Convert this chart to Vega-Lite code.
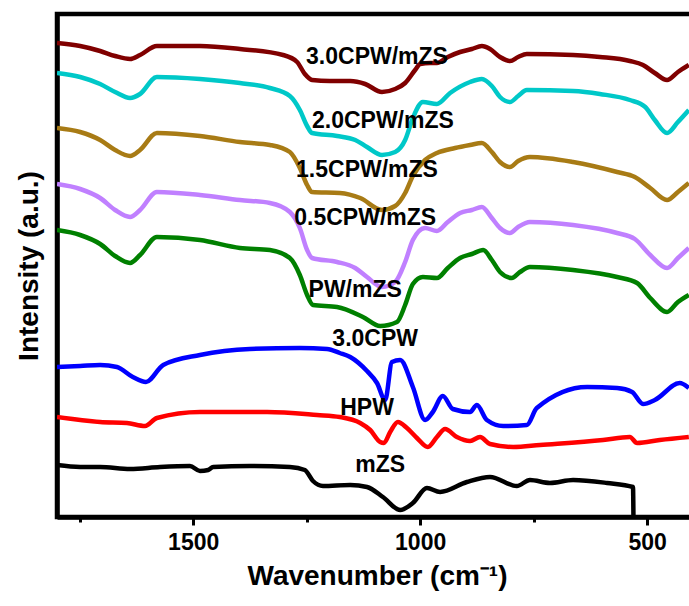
{
  "$schema": "https://vega.github.io/schema/vega-lite/v6.json",
  "width": 640,
  "height": 503,
  "autosize": {"type": "none"},
  "padding": {"left": 57, "top": 14, "right": 0, "bottom": 89},
  "background": "white",
  "config": {
    "font": "Liberation Sans",
    "view": {"stroke": "black", "strokeWidth": 4.5},
    "axis": {"grid": false, "domainColor": "black", "domainWidth": 4.5, "tickColor": "black", "tickWidth": 3, "labelFont": "Liberation Sans", "labelFontWeight": "bold", "labelFontSize": 23, "labelColor": "black", "titleFont": "Liberation Sans", "titleFontWeight": "bold", "titleFontSize": 28, "titleColor": "black"}
  },
  "datasets": {
    "spectra": [
      {"s": "3.0CPW/mZS", "wn": 1800, "v": 474}, {"s": "3.0CPW/mZS", "wn": 1749, "v": 471}, {"s": "3.0CPW/mZS", "wn": 1705, "v": 466}, {"s": "3.0CPW/mZS", "wn": 1672, "v": 461}, {"s": "3.0CPW/mZS", "wn": 1639, "v": 458}, {"s": "3.0CPW/mZS", "wn": 1617, "v": 462}, {"s": "3.0CPW/mZS", "wn": 1580, "v": 471}, {"s": "3.0CPW/mZS", "wn": 1485, "v": 471}, {"s": "3.0CPW/mZS", "wn": 1397, "v": 468}, {"s": "3.0CPW/mZS", "wn": 1302, "v": 462}, {"s": "3.0CPW/mZS", "wn": 1271, "v": 455}, {"s": "3.0CPW/mZS", "wn": 1254, "v": 443}, {"s": "3.0CPW/mZS", "wn": 1238, "v": 437}, {"s": "3.0CPW/mZS", "wn": 1199, "v": 436}, {"s": "3.0CPW/mZS", "wn": 1154, "v": 436}, {"s": "3.0CPW/mZS", "wn": 1121, "v": 433}, {"s": "3.0CPW/mZS", "wn": 1084, "v": 425}, {"s": "3.0CPW/mZS", "wn": 1055, "v": 428}, {"s": "3.0CPW/mZS", "wn": 1033, "v": 434}, {"s": "3.0CPW/mZS", "wn": 1011, "v": 447}, {"s": "3.0CPW/mZS", "wn": 1000, "v": 453}, {"s": "3.0CPW/mZS", "wn": 978, "v": 454}, {"s": "3.0CPW/mZS", "wn": 963, "v": 454}, {"s": "3.0CPW/mZS", "wn": 939, "v": 460}, {"s": "3.0CPW/mZS", "wn": 912, "v": 465}, {"s": "3.0CPW/mZS", "wn": 886, "v": 468}, {"s": "3.0CPW/mZS", "wn": 864, "v": 471}, {"s": "3.0CPW/mZS", "wn": 846, "v": 468}, {"s": "3.0CPW/mZS", "wn": 824, "v": 460}, {"s": "3.0CPW/mZS", "wn": 802, "v": 456}, {"s": "3.0CPW/mZS", "wn": 784, "v": 460}, {"s": "3.0CPW/mZS", "wn": 765, "v": 463}, {"s": "3.0CPW/mZS", "wn": 663, "v": 462}, {"s": "3.0CPW/mZS", "wn": 604, "v": 460}, {"s": "3.0CPW/mZS", "wn": 538, "v": 456}, {"s": "3.0CPW/mZS", "wn": 509, "v": 452}, {"s": "3.0CPW/mZS", "wn": 483, "v": 444}, {"s": "3.0CPW/mZS", "wn": 456, "v": 437}, {"s": "3.0CPW/mZS", "wn": 432, "v": 445}, {"s": "3.0CPW/mZS", "wn": 408, "v": 452},

      {"s": "2.0CPW/mZS", "wn": 1800, "v": 444}, {"s": "2.0CPW/mZS", "wn": 1749, "v": 440}, {"s": "2.0CPW/mZS", "wn": 1705, "v": 433}, {"s": "2.0CPW/mZS", "wn": 1672, "v": 425}, {"s": "2.0CPW/mZS", "wn": 1639, "v": 419}, {"s": "2.0CPW/mZS", "wn": 1617, "v": 423}, {"s": "2.0CPW/mZS", "wn": 1580, "v": 440}, {"s": "2.0CPW/mZS", "wn": 1485, "v": 438}, {"s": "2.0CPW/mZS", "wn": 1397, "v": 434}, {"s": "2.0CPW/mZS", "wn": 1331, "v": 429}, {"s": "2.0CPW/mZS", "wn": 1287, "v": 421}, {"s": "2.0CPW/mZS", "wn": 1265, "v": 407}, {"s": "2.0CPW/mZS", "wn": 1249, "v": 391}, {"s": "2.0CPW/mZS", "wn": 1238, "v": 384}, {"s": "2.0CPW/mZS", "wn": 1183, "v": 381}, {"s": "2.0CPW/mZS", "wn": 1143, "v": 377}, {"s": "2.0CPW/mZS", "wn": 1117, "v": 370}, {"s": "2.0CPW/mZS", "wn": 1084, "v": 362}, {"s": "2.0CPW/mZS", "wn": 1055, "v": 365}, {"s": "2.0CPW/mZS", "wn": 1033, "v": 377}, {"s": "2.0CPW/mZS", "wn": 1016, "v": 399}, {"s": "2.0CPW/mZS", "wn": 994, "v": 415}, {"s": "2.0CPW/mZS", "wn": 963, "v": 413}, {"s": "2.0CPW/mZS", "wn": 934, "v": 424}, {"s": "2.0CPW/mZS", "wn": 890, "v": 435}, {"s": "2.0CPW/mZS", "wn": 864, "v": 438}, {"s": "2.0CPW/mZS", "wn": 842, "v": 431}, {"s": "2.0CPW/mZS", "wn": 824, "v": 420}, {"s": "2.0CPW/mZS", "wn": 802, "v": 415}, {"s": "2.0CPW/mZS", "wn": 784, "v": 421}, {"s": "2.0CPW/mZS", "wn": 765, "v": 427}, {"s": "2.0CPW/mZS", "wn": 663, "v": 426}, {"s": "2.0CPW/mZS", "wn": 604, "v": 423}, {"s": "2.0CPW/mZS", "wn": 538, "v": 417}, {"s": "2.0CPW/mZS", "wn": 504, "v": 410}, {"s": "2.0CPW/mZS", "wn": 483, "v": 397}, {"s": "2.0CPW/mZS", "wn": 456, "v": 384}, {"s": "2.0CPW/mZS", "wn": 432, "v": 395}, {"s": "2.0CPW/mZS", "wn": 408, "v": 407},

      {"s": "1.5CPW/mZS", "wn": 1800, "v": 389}, {"s": "1.5CPW/mZS", "wn": 1749, "v": 385}, {"s": "1.5CPW/mZS", "wn": 1705, "v": 377}, {"s": "1.5CPW/mZS", "wn": 1672, "v": 367}, {"s": "1.5CPW/mZS", "wn": 1639, "v": 361}, {"s": "1.5CPW/mZS", "wn": 1617, "v": 367}, {"s": "1.5CPW/mZS", "wn": 1580, "v": 384}, {"s": "1.5CPW/mZS", "wn": 1485, "v": 381}, {"s": "1.5CPW/mZS", "wn": 1397, "v": 375}, {"s": "1.5CPW/mZS", "wn": 1331, "v": 372}, {"s": "1.5CPW/mZS", "wn": 1287, "v": 365}, {"s": "1.5CPW/mZS", "wn": 1265, "v": 349}, {"s": "1.5CPW/mZS", "wn": 1249, "v": 332}, {"s": "1.5CPW/mZS", "wn": 1238, "v": 325}, {"s": "1.5CPW/mZS", "wn": 1177, "v": 324}, {"s": "1.5CPW/mZS", "wn": 1132, "v": 319}, {"s": "1.5CPW/mZS", "wn": 1084, "v": 307}, {"s": "1.5CPW/mZS", "wn": 1055, "v": 311}, {"s": "1.5CPW/mZS", "wn": 1033, "v": 324}, {"s": "1.5CPW/mZS", "wn": 1016, "v": 341}, {"s": "1.5CPW/mZS", "wn": 989, "v": 357}, {"s": "1.5CPW/mZS", "wn": 963, "v": 364}, {"s": "1.5CPW/mZS", "wn": 923, "v": 369}, {"s": "1.5CPW/mZS", "wn": 890, "v": 372}, {"s": "1.5CPW/mZS", "wn": 864, "v": 374}, {"s": "1.5CPW/mZS", "wn": 842, "v": 365}, {"s": "1.5CPW/mZS", "wn": 824, "v": 355}, {"s": "1.5CPW/mZS", "wn": 802, "v": 350}, {"s": "1.5CPW/mZS", "wn": 784, "v": 356}, {"s": "1.5CPW/mZS", "wn": 758, "v": 360}, {"s": "1.5CPW/mZS", "wn": 663, "v": 355}, {"s": "1.5CPW/mZS", "wn": 566, "v": 345}, {"s": "1.5CPW/mZS", "wn": 527, "v": 340}, {"s": "1.5CPW/mZS", "wn": 493, "v": 329}, {"s": "1.5CPW/mZS", "wn": 456, "v": 317}, {"s": "1.5CPW/mZS", "wn": 432, "v": 325}, {"s": "1.5CPW/mZS", "wn": 408, "v": 334},

      {"s": "0.5CPW/mZS", "wn": 1800, "v": 333}, {"s": "0.5CPW/mZS", "wn": 1749, "v": 328}, {"s": "0.5CPW/mZS", "wn": 1705, "v": 319}, {"s": "0.5CPW/mZS", "wn": 1672, "v": 307}, {"s": "0.5CPW/mZS", "wn": 1639, "v": 300}, {"s": "0.5CPW/mZS", "wn": 1617, "v": 307}, {"s": "0.5CPW/mZS", "wn": 1580, "v": 325}, {"s": "0.5CPW/mZS", "wn": 1485, "v": 322}, {"s": "0.5CPW/mZS", "wn": 1397, "v": 317}, {"s": "0.5CPW/mZS", "wn": 1331, "v": 314}, {"s": "0.5CPW/mZS", "wn": 1287, "v": 305}, {"s": "0.5CPW/mZS", "wn": 1265, "v": 289}, {"s": "0.5CPW/mZS", "wn": 1249, "v": 267}, {"s": "0.5CPW/mZS", "wn": 1238, "v": 259}, {"s": "0.5CPW/mZS", "wn": 1183, "v": 255}, {"s": "0.5CPW/mZS", "wn": 1143, "v": 249}, {"s": "0.5CPW/mZS", "wn": 1117, "v": 240}, {"s": "0.5CPW/mZS", "wn": 1084, "v": 230}, {"s": "0.5CPW/mZS", "wn": 1055, "v": 235}, {"s": "0.5CPW/mZS", "wn": 1033, "v": 255}, {"s": "0.5CPW/mZS", "wn": 1016, "v": 277}, {"s": "0.5CPW/mZS", "wn": 989, "v": 289}, {"s": "0.5CPW/mZS", "wn": 963, "v": 286}, {"s": "0.5CPW/mZS", "wn": 939, "v": 295}, {"s": "0.5CPW/mZS", "wn": 912, "v": 304}, {"s": "0.5CPW/mZS", "wn": 886, "v": 307}, {"s": "0.5CPW/mZS", "wn": 864, "v": 310}, {"s": "0.5CPW/mZS", "wn": 842, "v": 299}, {"s": "0.5CPW/mZS", "wn": 824, "v": 289}, {"s": "0.5CPW/mZS", "wn": 802, "v": 284}, {"s": "0.5CPW/mZS", "wn": 784, "v": 290}, {"s": "0.5CPW/mZS", "wn": 758, "v": 295}, {"s": "0.5CPW/mZS", "wn": 663, "v": 292}, {"s": "0.5CPW/mZS", "wn": 566, "v": 284}, {"s": "0.5CPW/mZS", "wn": 527, "v": 278}, {"s": "0.5CPW/mZS", "wn": 493, "v": 262}, {"s": "0.5CPW/mZS", "wn": 456, "v": 249}, {"s": "0.5CPW/mZS", "wn": 432, "v": 259}, {"s": "0.5CPW/mZS", "wn": 408, "v": 269},

      {"s": "PW/mZS", "wn": 1800, "v": 287}, {"s": "PW/mZS", "wn": 1749, "v": 282}, {"s": "PW/mZS", "wn": 1705, "v": 273}, {"s": "PW/mZS", "wn": 1672, "v": 261}, {"s": "PW/mZS", "wn": 1639, "v": 254}, {"s": "PW/mZS", "wn": 1617, "v": 262}, {"s": "PW/mZS", "wn": 1580, "v": 280}, {"s": "PW/mZS", "wn": 1485, "v": 277}, {"s": "PW/mZS", "wn": 1397, "v": 269}, {"s": "PW/mZS", "wn": 1331, "v": 267}, {"s": "PW/mZS", "wn": 1287, "v": 259}, {"s": "PW/mZS", "wn": 1265, "v": 242}, {"s": "PW/mZS", "wn": 1249, "v": 222}, {"s": "PW/mZS", "wn": 1236, "v": 212}, {"s": "PW/mZS", "wn": 1183, "v": 210}, {"s": "PW/mZS", "wn": 1126, "v": 200}, {"s": "PW/mZS", "wn": 1088, "v": 191}, {"s": "PW/mZS", "wn": 1051, "v": 195}, {"s": "PW/mZS", "wn": 1033, "v": 212}, {"s": "PW/mZS", "wn": 1016, "v": 233}, {"s": "PW/mZS", "wn": 994, "v": 240}, {"s": "PW/mZS", "wn": 963, "v": 239}, {"s": "PW/mZS", "wn": 939, "v": 249}, {"s": "PW/mZS", "wn": 912, "v": 259}, {"s": "PW/mZS", "wn": 886, "v": 263}, {"s": "PW/mZS", "wn": 861, "v": 267}, {"s": "PW/mZS", "wn": 842, "v": 257}, {"s": "PW/mZS", "wn": 824, "v": 245}, {"s": "PW/mZS", "wn": 798, "v": 239}, {"s": "PW/mZS", "wn": 780, "v": 245}, {"s": "PW/mZS", "wn": 758, "v": 250}, {"s": "PW/mZS", "wn": 663, "v": 247}, {"s": "PW/mZS", "wn": 566, "v": 240}, {"s": "PW/mZS", "wn": 522, "v": 234}, {"s": "PW/mZS", "wn": 493, "v": 219}, {"s": "PW/mZS", "wn": 456, "v": 205}, {"s": "PW/mZS", "wn": 432, "v": 215}, {"s": "PW/mZS", "wn": 408, "v": 222},

      {"s": "3.0CPW", "wn": 1800, "v": 150}, {"s": "3.0CPW", "wn": 1749, "v": 151}, {"s": "3.0CPW", "wn": 1705, "v": 152}, {"s": "3.0CPW", "wn": 1668, "v": 150}, {"s": "3.0CPW", "wn": 1633, "v": 140}, {"s": "3.0CPW", "wn": 1604, "v": 135}, {"s": "3.0CPW", "wn": 1566, "v": 152}, {"s": "3.0CPW", "wn": 1485, "v": 162}, {"s": "3.0CPW", "wn": 1375, "v": 168}, {"s": "3.0CPW", "wn": 1265, "v": 169}, {"s": "3.0CPW", "wn": 1205, "v": 168}, {"s": "3.0CPW", "wn": 1177, "v": 164}, {"s": "3.0CPW", "wn": 1154, "v": 160}, {"s": "3.0CPW", "wn": 1117, "v": 146}, {"s": "3.0CPW", "wn": 1095, "v": 134}, {"s": "3.0CPW", "wn": 1077, "v": 117}, {"s": "3.0CPW", "wn": 1062, "v": 155}, {"s": "3.0CPW", "wn": 1044, "v": 157}, {"s": "3.0CPW", "wn": 1016, "v": 130}, {"s": "3.0CPW", "wn": 989, "v": 97}, {"s": "3.0CPW", "wn": 972, "v": 105}, {"s": "3.0CPW", "wn": 950, "v": 121}, {"s": "3.0CPW", "wn": 928, "v": 108}, {"s": "3.0CPW", "wn": 890, "v": 105}, {"s": "3.0CPW", "wn": 875, "v": 112}, {"s": "3.0CPW", "wn": 853, "v": 97}, {"s": "3.0CPW", "wn": 817, "v": 91}, {"s": "3.0CPW", "wn": 765, "v": 92}, {"s": "3.0CPW", "wn": 743, "v": 109}, {"s": "3.0CPW", "wn": 632, "v": 130}, {"s": "3.0CPW", "wn": 566, "v": 129}, {"s": "3.0CPW", "wn": 533, "v": 125}, {"s": "3.0CPW", "wn": 509, "v": 113}, {"s": "3.0CPW", "wn": 483, "v": 117}, {"s": "3.0CPW", "wn": 428, "v": 134}, {"s": "3.0CPW", "wn": 408, "v": 129},

      {"s": "HPW", "wn": 1800, "v": 100}, {"s": "HPW", "wn": 1705, "v": 95}, {"s": "HPW", "wn": 1646, "v": 94}, {"s": "HPW", "wn": 1606, "v": 91}, {"s": "HPW", "wn": 1580, "v": 99}, {"s": "HPW", "wn": 1485, "v": 105}, {"s": "HPW", "wn": 1337, "v": 105}, {"s": "HPW", "wn": 1227, "v": 102}, {"s": "HPW", "wn": 1177, "v": 100}, {"s": "HPW", "wn": 1132, "v": 94}, {"s": "HPW", "wn": 1110, "v": 87}, {"s": "HPW", "wn": 1088, "v": 75}, {"s": "HPW", "wn": 1080, "v": 74}, {"s": "HPW", "wn": 1066, "v": 85}, {"s": "HPW", "wn": 1049, "v": 95}, {"s": "HPW", "wn": 1029, "v": 89}, {"s": "HPW", "wn": 1007, "v": 79}, {"s": "HPW", "wn": 983, "v": 70}, {"s": "HPW", "wn": 963, "v": 80}, {"s": "HPW", "wn": 945, "v": 88}, {"s": "HPW", "wn": 919, "v": 80}, {"s": "HPW", "wn": 890, "v": 76}, {"s": "HPW", "wn": 868, "v": 80}, {"s": "HPW", "wn": 846, "v": 73}, {"s": "HPW", "wn": 795, "v": 70}, {"s": "HPW", "wn": 736, "v": 72}, {"s": "HPW", "wn": 597, "v": 77}, {"s": "HPW", "wn": 538, "v": 80}, {"s": "HPW", "wn": 522, "v": 74}, {"s": "HPW", "wn": 472, "v": 77}, {"s": "HPW", "wn": 408, "v": 80},

      {"s": "mZS", "wn": 1800, "v": 52}, {"s": "mZS", "wn": 1749, "v": 50}, {"s": "mZS", "wn": 1705, "v": 50}, {"s": "mZS", "wn": 1639, "v": 48}, {"s": "mZS", "wn": 1573, "v": 50}, {"s": "mZS", "wn": 1507, "v": 51}, {"s": "mZS", "wn": 1485, "v": 46}, {"s": "mZS", "wn": 1467, "v": 47}, {"s": "mZS", "wn": 1456, "v": 50}, {"s": "mZS", "wn": 1375, "v": 51}, {"s": "mZS", "wn": 1287, "v": 50}, {"s": "mZS", "wn": 1254, "v": 47}, {"s": "mZS", "wn": 1236, "v": 36}, {"s": "mZS", "wn": 1214, "v": 31}, {"s": "mZS", "wn": 1154, "v": 32}, {"s": "mZS", "wn": 1117, "v": 30}, {"s": "mZS", "wn": 1082, "v": 20}, {"s": "mZS", "wn": 1044, "v": 7}, {"s": "mZS", "wn": 1016, "v": 14}, {"s": "mZS", "wn": 985, "v": 29}, {"s": "mZS", "wn": 956, "v": 25}, {"s": "mZS", "wn": 897, "v": 35}, {"s": "mZS", "wn": 846, "v": 40}, {"s": "mZS", "wn": 787, "v": 31}, {"s": "mZS", "wn": 758, "v": 37}, {"s": "mZS", "wn": 714, "v": 34}, {"s": "mZS", "wn": 663, "v": 37}, {"s": "mZS", "wn": 588, "v": 34}, {"s": "mZS", "wn": 531, "v": 30}, {"s": "mZS", "wn": 530, "v": 0}
    ],
    "labels": [
      {"label": "3.0CPW/mZS", "wn": 1095, "v": 460},
      {"label": "2.0CPW/mZS", "wn": 1082, "v": 396},
      {"label": "1.5CPW/mZS", "wn": 1117, "v": 347},
      {"label": "0.5CPW/mZS", "wn": 1121, "v": 299},
      {"label": "PW/mZS", "wn": 1143, "v": 227},
      {"label": "3.0CPW", "wn": 1099, "v": 178},
      {"label": "HPW", "wn": 1117, "v": 109},
      {"label": "mZS", "wn": 1088, "v": 52}
    ]
  },
  "layer": [
    {
      "data": {"name": "spectra"},
      "mark": {"type": "line", "strokeWidth": 4.5, "clip": true, "interpolate": "monotone"},
      "encoding": {
        "x": {"field": "wn", "type": "quantitative", "scale": {"domain": [1800, 390], "nice": false, "zero": false},
          "axis": {"values": [1750, 1500, 1250, 1000, 750, 500], "labelExpr": "datum.value % 500 === 0 ? datum.value : ''", "tickSize": {"condition": {"test": "datum.value % 500 === 0", "value": 8}, "value": 5}, "labelPadding": 6, "title": "Wavenumber (cm⁻¹)", "titlePadding": 8}},
        "y": {"field": "v", "type": "quantitative", "scale": {"domain": [0, 503], "nice": false, "zero": false},
          "axis": {"ticks": false, "labels": false, "title": "Intensity (a.u.)", "titlePadding": 14}},
        "color": {"field": "s", "type": "nominal", "legend": null,
          "scale": {"domain": ["3.0CPW/mZS", "2.0CPW/mZS", "1.5CPW/mZS", "0.5CPW/mZS", "PW/mZS", "3.0CPW", "HPW", "mZS"],
                    "range": ["#800000", "#00C8C8", "#A87B15", "#C080FF", "#008000", "#0000FF", "#FF0000", "#000000"]}},
        "detail": {"field": "s"}
      }
    },
    {
      "data": {"name": "labels"},
      "mark": {"type": "text", "font": "Liberation Sans", "fontWeight": "bold", "fontSize": 23, "color": "black", "align": "center", "baseline": "middle"},
      "encoding": {
        "x": {"field": "wn", "type": "quantitative"},
        "y": {"field": "v", "type": "quantitative"},
        "text": {"field": "label"}
      }
    }
  ]
}
